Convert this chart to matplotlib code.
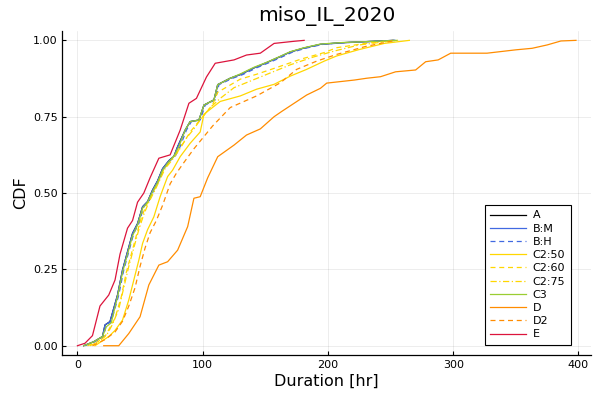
import matplotlib
matplotlib.use("Agg")
import matplotlib.pyplot as plt

title = "miso_IL_2020"
x_label = "Duration [hr]"
y_label = "CDF"
x_ticks = [0, 100, 200, 300, 400]
y_ticks = [0.0, 0.25, 0.5, 0.75, 1.0]
y_tick_labels = ["0.00", "0.25", "0.50", "0.75", "1.00"]

names = ["A", "B:M", "B:H", "C2:50", "C2:60", "C2:75", "C3", "D", "D2", "E"]

A_x = [5, 13, 20, 22, 26, 32, 36, 40, 44, 48, 52, 56, 60, 64, 68, 73, 77, 80, 86, 90, 97, 101, 109, 112, 122, 130, 141, 151, 162, 170, 181, 194, 210, 242, 252]
A_p = [0, 0.013, 0.03, 0.068, 0.079, 0.166, 0.248, 0.308, 0.368, 0.40, 0.455, 0.472, 0.51, 0.54, 0.58, 0.606, 0.62, 0.652, 0.706, 0.734, 0.739, 0.788, 0.805, 0.855, 0.876, 0.888, 0.91, 0.927, 0.947, 0.962, 0.975, 0.987, 0.992, 0.998, 1.0]
BM_x = [5, 13, 20, 22, 26, 32, 36, 40, 44, 48, 52, 56, 60, 64, 68, 73, 77, 80, 86, 90, 97, 101, 109, 112, 122, 130, 141, 151, 162, 170, 181, 194, 210, 242, 253]
BM_p = [0, 0.013, 0.03, 0.068, 0.079, 0.166, 0.248, 0.308, 0.368, 0.40, 0.455, 0.472, 0.51, 0.54, 0.58, 0.606, 0.62, 0.652, 0.706, 0.734, 0.739, 0.788, 0.805, 0.855, 0.876, 0.888, 0.91, 0.927, 0.947, 0.962, 0.975, 0.987, 0.992, 0.998, 1.0]
BH_x = [6, 14, 21, 23, 27, 33, 37, 41, 45, 49, 53, 57, 61, 65, 69, 74, 78, 82, 87, 91, 98, 102, 110, 113, 124, 132, 143, 153, 164, 172, 183, 196, 212, 244, 254]
BH_p = [0, 0.013, 0.03, 0.068, 0.079, 0.166, 0.248, 0.308, 0.368, 0.40, 0.455, 0.472, 0.51, 0.54, 0.58, 0.606, 0.62, 0.652, 0.706, 0.734, 0.739, 0.788, 0.805, 0.855, 0.876, 0.888, 0.91, 0.927, 0.947, 0.962, 0.975, 0.987, 0.992, 0.998, 1.0]
C3_x = [5, 13, 20, 23, 27, 32, 36, 40, 44, 48, 52, 56, 60, 64, 68, 73, 77, 81, 86, 90, 97, 101, 109, 112, 122, 130, 141, 151, 162, 170, 181, 194, 212, 244, 255]
C3_p = [0, 0.013, 0.03, 0.062, 0.075, 0.16, 0.24, 0.30, 0.36, 0.395, 0.45, 0.47, 0.505, 0.535, 0.575, 0.603, 0.62, 0.652, 0.706, 0.734, 0.739, 0.788, 0.805, 0.855, 0.876, 0.89, 0.912, 0.928, 0.948, 0.963, 0.976, 0.988, 0.993, 0.998, 1.0]
C250_x = [14, 25, 30, 36, 41, 45, 49, 52, 56, 61, 66, 72, 76, 82, 90, 98, 101, 114, 130, 143, 157, 170, 183, 197, 207, 225, 245, 265]
C250_p = [0, 0.03, 0.05, 0.084, 0.15, 0.215, 0.28, 0.335, 0.38, 0.422, 0.488, 0.554, 0.575, 0.619, 0.663, 0.70, 0.758, 0.80, 0.818, 0.84, 0.856, 0.883, 0.905, 0.932, 0.949, 0.97, 0.99, 1.0]
C260_x = [8, 15, 22, 26, 30, 35, 39, 43, 47, 51, 55, 60, 64, 68, 73, 79, 84, 90, 96, 102, 108, 112, 130, 143, 159, 178, 197, 207, 230, 252]
C260_p = [0, 0.01, 0.03, 0.06, 0.09, 0.16, 0.24, 0.30, 0.36, 0.42, 0.46, 0.50, 0.53, 0.57, 0.60, 0.63, 0.66, 0.70, 0.73, 0.76, 0.79, 0.83, 0.873, 0.889, 0.911, 0.938, 0.96, 0.976, 0.99, 1.0]
C275_x = [10, 18, 24, 28, 33, 37, 41, 45, 49, 53, 57, 62, 66, 70, 75, 81, 87, 93, 99, 106, 114, 125, 140, 155, 170, 188, 205, 225, 245, 256]
C275_p = [0, 0.015, 0.04, 0.07, 0.12, 0.19, 0.26, 0.32, 0.38, 0.43, 0.47, 0.51, 0.545, 0.58, 0.605, 0.64, 0.68, 0.71, 0.745, 0.78, 0.81, 0.845, 0.87, 0.895, 0.92, 0.945, 0.965, 0.985, 0.995, 1.0]
D_x = [21, 33, 41, 50, 57, 65, 72, 80, 88, 93, 98, 104, 112, 125, 135, 146, 157, 163, 173, 183, 194, 199, 221, 231, 242, 254, 270, 278, 288, 298, 327, 350, 363, 375, 386, 398]
D_p = [0, 0, 0.04, 0.095, 0.199, 0.264, 0.275, 0.313, 0.39, 0.483, 0.488, 0.55, 0.619, 0.657, 0.69, 0.71, 0.75, 0.767, 0.794, 0.821, 0.843, 0.86, 0.87, 0.876, 0.881, 0.897, 0.903, 0.93, 0.936, 0.958, 0.958, 0.969, 0.974, 0.985, 0.998, 1.0]
D2_x = [12, 22, 30, 36, 41, 46, 50, 54, 58, 63, 68, 74, 79, 85, 93, 100, 108, 122, 143, 162, 175, 191, 207, 230, 254]
D2_p = [0, 0.02, 0.045, 0.08, 0.13, 0.19, 0.26, 0.32, 0.37, 0.41, 0.46, 0.53, 0.565, 0.60, 0.645, 0.68, 0.72, 0.78, 0.818, 0.861, 0.905, 0.932, 0.954, 0.98, 1.0]
E_x = [0, 6, 12, 18, 25, 30, 34, 40, 44, 48, 53, 58, 65, 74, 82, 89, 95, 103, 110, 125, 135, 146, 157, 173, 181]
E_p = [0, 0.008, 0.033, 0.13, 0.166, 0.215, 0.30, 0.385, 0.41, 0.47, 0.50, 0.55, 0.614, 0.625, 0.706, 0.794, 0.81, 0.88, 0.925, 0.936, 0.952, 0.958, 0.99, 0.997, 1.0]

series_x = [A_x, BM_x, BH_x, C250_x, C260_x, C275_x, C3_x, D_x, D2_x, E_x]
series_p = [A_p, BM_p, BH_p, C250_p, C260_p, C275_p, C3_p, D_p, D2_p, E_p]

colors = ["black", "#4169e1", "#4169e1", "#ffd700", "#ffd700", "#ffd700",
          "#9acd32", "#ff8c00", "#ff8c00", "#dc143c"]
styles = ["-", "-", (0, (4, 3)), "-", (0, (4, 3)), (0, (5, 2, 1, 2)),
          "-", "-", (0, (4, 3)), "-"]

fig = plt.figure(figsize=(6, 4), dpi=100)
ax = fig.add_axes([0.104, 0.1128, 0.881, 0.8092])

for n, xs, ps, c, ls in zip(names, series_x, series_p, colors, styles):
    ax.plot(xs, ps, color=c, linestyle=ls, linewidth=0.9, label=n)

ax.set_xlim(-12, 410)
ax.set_ylim(-0.03, 1.03)
ax.set_xticks(x_ticks)
ax.set_yticks(y_ticks)
ax.set_yticklabels(y_tick_labels)
ax.tick_params(direction="in", length=3, width=0.8, labelsize=8, colors="black")
ax.grid(True, color="#000000", alpha=0.1, linewidth=0.5)
for s in ["top", "right"]:
    ax.spines[s].set_visible(False)
for s in ["left", "bottom"]:
    ax.spines[s].set_linewidth(0.9)

ax.set_title(title, fontsize=14.5, pad=7)
ax.set_xlabel(x_label, fontsize=11.5, labelpad=3)
ax.set_ylabel(y_label, fontsize=11.5, labelpad=3)

leg = ax.legend(loc="lower right", bbox_to_anchor=(570.7 / 600, 1 - 345 / 400),
                bbox_transform=fig.transFigure, fontsize=8, frameon=True,
                fancybox=False, framealpha=1, edgecolor="black",
                handlelength=3.2, handletextpad=0.6, labelspacing=0.29,
                borderpad=0.5, borderaxespad=0)
leg.get_frame().set_linewidth(0.8)

fig.savefig("out.png", dpi=100)
